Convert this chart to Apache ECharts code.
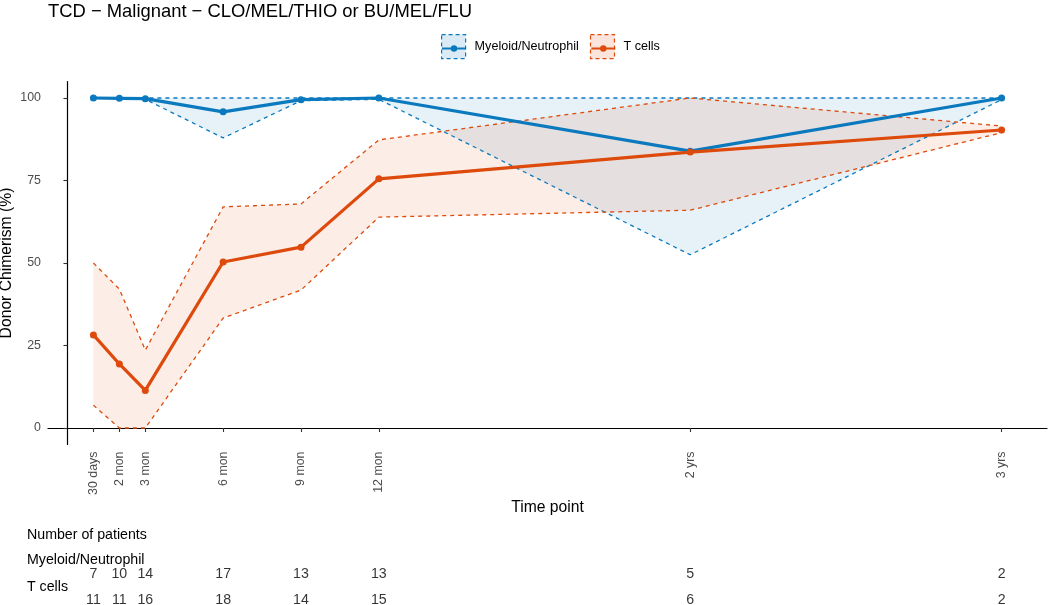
<!DOCTYPE html>
<html>
<head>
<meta charset="utf-8">
<script src="https://cdn.jsdelivr.net/npm/echarts@6/dist/echarts.min.js"></script>
<style>
html,body{margin:0;padding:0;background:#fff;}
#chart{width:1050px;height:605px;}
</style>
</head>
<body>
<div id="chart"></div>
<script>
// ---- data ----
var months = [1, 2, 3, 6, 9, 12, 24, 36];
var tickLabels = ['30 days', '2 mon', '3 mon', '6 mon', '9 mon', '12 mon', '2 yrs', '3 yrs'];
var yTicks = [0, 25, 50, 75, 100];
var myeloid = [100, 99.9, 99.8, 95.8, 99.5, 100, 83.9, 100];
var myeloidLow = [100, 100, 99.6, 87.9, 99.2, 99.6, 52.5, 99.5];
var myeloidHigh = [100, 100, 100, 100, 100, 100, 100, 100];
var tcell = [28.2, 19.4, 11.4, 50.3, 54.8, 75.5, 83.6, 90.3];
var tcellLow = [6.9, 0, 0, 33.3, 41.8, 63.9, 66.0, 89.5];
var tcellHigh = [50.0, 42.1, 23.6, 67.0, 67.9, 87.3, 100, 91.5];
var nMyeloid = [7, 10, 14, 17, 13, 13, 5, 2];
var nTcell = [11, 11, 16, 18, 14, 15, 6, 2];
var seriesNames = ['Myeloid/Neutrophil', 'T cells'];
var titleText = 'TCD \u2212 Malignant \u2212 CLO/MEL/THIO or BU/MEL/FLU';

var BLUE = '#0b79bd', ORANGE = '#dd4a0c';
var BLUE_FILL = 'rgba(11,121,189,0.10)', ORANGE_FILL = 'rgba(221,74,12,0.10)';
var BLUE_KEY = 'rgba(11,121,189,0.15)', ORANGE_KEY = 'rgba(221,74,12,0.15)';
var FONT = 'Liberation Sans, Arial';

function pairs(ys) { return months.map(function (m, i) { return [m, ys[i]]; }); }
function countPts(ns, row) { return months.map(function (m, i) { return [m, row, ns[i]]; }); }

var dash = [4, 4];
function dashedLine(name, ys, color) {
  return { name: name, type: 'line', xAxisIndex: 0, yAxisIndex: 0, data: pairs(ys),
    symbol: 'none', lineStyle: { color: color, width: 1.3, type: dash }, z: 2, silent: true };
}
function bandFill(name, lo, hi, fill) {
  return { name: name, type: 'custom', xAxisIndex: 0, yAxisIndex: 0, silent: true, z: 1,
    data: months.map(function (m, i) { return [m, lo[i], hi[i]]; }),
    encode: { x: 0, y: [1, 2] },
    renderItem: function (params, api) {
      if (params.dataIndex !== 0) return null;
      var pts = [], i;
      for (i = 0; i < months.length; i++) pts.push(api.coord([months[i], hi[i]]));
      for (i = months.length - 1; i >= 0; i--) pts.push(api.coord([months[i], lo[i]]));
      return { type: 'polygon', shape: { points: pts }, style: { fill: fill, stroke: null } };
    } };
}
function mainLine(name, ys, color) {
  return { name: name, type: 'line', xAxisIndex: 0, yAxisIndex: 0, data: pairs(ys),
    symbol: 'circle', symbolSize: 7, showSymbol: true,
    itemStyle: { color: color }, lineStyle: { color: color, width: 3.2 }, z: 3 };
}
function countSeries(ns, row) {
  return { type: 'scatter', xAxisIndex: 1, yAxisIndex: 1, data: countPts(ns, row), symbolSize: 1,
    itemStyle: { color: 'rgba(0,0,0,0)' }, clip: false, silent: true,
    label: { show: true, position: 'inside', color: '#000', fontSize: 14.2, fontFamily: FONT,
      formatter: function (p) { return String(p.value[2]); } } };
}

var legendText = { fontSize: 12.6, color: '#000', fontFamily: FONT, padding: [0, 0, 0, 4] };
var chart = echarts.init(document.getElementById('chart'), null, { renderer: 'canvas' });
chart.setOption({
  animation: false,
  backgroundColor: '#fff',
  textStyle: { fontFamily: FONT },
  title: { text: titleText, left: 43, top: -2,
    textStyle: { fontSize: 18.4, fontWeight: 'normal', color: '#000', fontFamily: FONT } },
  legend: [
    { left: 436, top: 29, itemWidth: 24, itemHeight: 24, itemGap: 11, z: 3, selectedMode: false,
      textStyle: legendText,
      data: [
        { name: seriesNames[0], icon: 'rect', itemStyle: { color: BLUE_KEY, borderColor: BLUE, borderWidth: 1.2, borderType: [4, 3] } },
        { name: seriesNames[1], icon: 'rect', itemStyle: { color: ORANGE_KEY, borderColor: ORANGE, borderWidth: 1.2, borderType: [4, 3] } }
      ] },
    { left: 436, top: 37, itemWidth: 24, itemHeight: 8, itemGap: 11, z: 5, selectedMode: false,
      textStyle: Object.assign({}, legendText, { color: 'rgba(0,0,0,0)' }),
      data: seriesNames }
  ],
  grid: [
    { left: 48, right: 3, top: 81.5, bottom: 160.5, containLabel: false, outerBoundsMode: 'none' },
    { left: 48, right: 3, top: 574, height: 26.5, containLabel: false, outerBoundsMode: 'none' }
  ],
  xAxis: [
    { type: 'value', gridIndex: 0, min: -0.75, max: 37.75,
      name: 'Time point', nameLocation: 'middle', nameGap: 55, nameMoveOverlap: false,
      nameTextStyle: { fontSize: 15.7, color: '#000' },
      axisLine: { show: true, lineStyle: { color: '#000', width: 1.2 } },
      axisTick: { show: true, length: 4, customValues: months, lineStyle: { color: '#333', width: 1.1 } },
      axisLabel: { show: true, customValues: months, rotate: 90, margin: 7, fontSize: 12.4, color: '#4d4d4d',
        formatter: function (v) { var i = months.indexOf(v); return i >= 0 ? tickLabels[i] : ''; } },
      splitLine: { show: false } },
    { type: 'value', gridIndex: 1, min: -0.75, max: 37.75, show: false }
  ],
  yAxis: [
    { type: 'value', gridIndex: 0, min: -5, max: 105,
      name: 'Donor Chimerism (%)', nameLocation: 'middle', nameGap: 33, nameRotate: 90, nameMoveOverlap: false,
      nameTextStyle: { fontSize: 15.7, color: '#000' },
      axisLine: { show: true, lineStyle: { color: '#000', width: 1.2 } },
      axisTick: { show: true, length: 4, customValues: yTicks, lineStyle: { color: '#333', width: 1.1 } },
      axisLabel: { show: true, customValues: yTicks, margin: 7, fontSize: 12.4, color: '#4d4d4d' },
      splitLine: { show: false } },
    { type: 'value', gridIndex: 1, min: 0, max: 1, inverse: true, show: false }
  ],
  graphic: [
    { type: 'text', left: 27, top: 528, style: { text: 'Number of patients', fontSize: 14.2, fill: '#000', fontFamily: FONT } },
    { type: 'text', left: 27, top: 553, style: { text: seriesNames[0], fontSize: 14.2, fill: '#000', fontFamily: FONT } },
    { type: 'text', left: 27, top: 580, style: { text: seriesNames[1], fontSize: 14.2, fill: '#000', fontFamily: FONT } }
  ],
  series: [
    bandFill('myeloidBand', myeloidLow, myeloidHigh, BLUE_FILL),
    bandFill('tcellBand', tcellLow, tcellHigh, ORANGE_FILL),
    dashedLine('myeloidLow', myeloidLow, BLUE),
    dashedLine('myeloidHigh', myeloidHigh, BLUE),
    dashedLine('tcellLow', tcellLow, ORANGE),
    dashedLine('tcellHigh', tcellHigh, ORANGE),
    mainLine(seriesNames[0], myeloid, BLUE),
    mainLine(seriesNames[1], tcell, ORANGE),
    countSeries(nMyeloid, 0),
    countSeries(nTcell, 1)
  ]
});
</script>
</body>
</html>
